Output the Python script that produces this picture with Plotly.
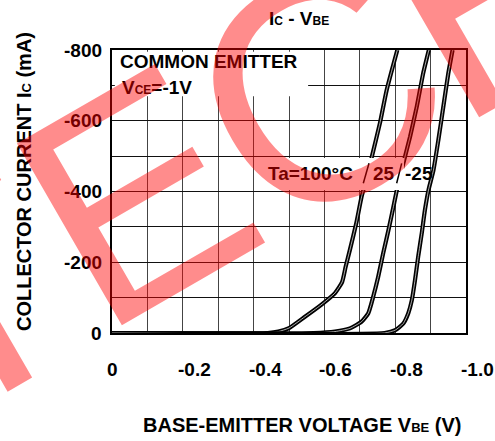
import plotly.graph_objects as go

# ---- data ----
vbe_100 = [0, -0.44, -0.47, -0.50, -0.545, -0.59, -0.63, -0.65, -0.66, -0.672, -0.69, -0.705, -0.718, -0.734, -0.757, -0.776, -0.806]
ic_100 = [0, 0, -4, -14, -46, -79, -113, -144, -187, -235, -310, -385, -433, -498, -594, -687, -800]
vbe_25 = [0, -0.57, -0.63, -0.672, -0.705, -0.724, -0.738, -0.752, -0.766, -0.781, -0.795, -0.809, -0.823, -0.842, -0.861, -0.879, -0.895]
ic_25 = [0, 0, -4, -13, -32, -56, -103, -159, -225, -291, -357, -425, -480, -555, -640, -734, -800]
vbe_m25 = [0, -0.77, -0.80, -0.823, -0.837, -0.847, -0.856, -0.865, -0.875, -0.884, -0.894, -0.908, -0.922, -0.936, -0.950, -0.962]
ic_m25 = [0, 0, -8, -27, -56, -93, -150, -216, -282, -348, -404, -460, -546, -640, -734, -800]

x_tick_vals = [0, -0.2, -0.4, -0.6, -0.8, -1.0]
x_tick_text = ["0", "-0.2", "-0.4", "-0.6", "-0.8", "-1.0"]
y_tick_vals = [0, -200, -400, -600, -800]
y_tick_text = ["0", "-200", "-400", "-600", "-800"]

# watermark letters (partly outside the picture) and their centres in paper units
wm_letters = ["T", "E", "C", "H"]
wm_x = [-0.4105, 0.0667, 0.5819, 1.0958]
wm_y = [0.1403, 0.4848, 0.8560, 1.2350]
wm_size = [305, 305, 318, 305]

FONT = "Liberation Sans, Arial, Helvetica, sans-serif"

fig = go.Figure()
for xs, ys in [(vbe_100, ic_100), (vbe_25, ic_25), (vbe_m25, ic_m25)]:
    fig.add_trace(go.Scatter(x=xs, y=ys, mode="lines",
                             line=dict(color="black", width=4.2, shape="spline", smoothing=0.5),
                             hoverinfo="skip", showlegend=False))
    fig.add_trace(go.Scatter(x=xs, y=ys, mode="lines",
                             line=dict(color="rgba(255,255,255,0.75)", width=0.9, shape="spline", smoothing=0.5),
                             hoverinfo="skip", showlegend=False))

annotations = []
# tick labels
for v, t in zip(x_tick_vals, x_tick_text):
    annotations.append(dict(x=v, xref="x", y=-0.1307, yref="paper", text=t, showarrow=False,
                            xanchor="left", yanchor="middle", xshift=-6, borderpad=0))
for v, t in zip(y_tick_vals, y_tick_text):
    annotations.append(dict(x=0, xref="paper", y=v, yref="y", text=t, showarrow=False,
                            xanchor="right", yanchor="middle", xshift=-9, borderpad=0))

# titles and labels
annotations += [
    dict(x=0.527, y=1.113, xref="paper", yref="paper", showarrow=False, xanchor="center", yanchor="middle",
         text="I<span style='font-size:12px'>C</span> - V<span style='font-size:12px'>BE</span>"),
    dict(x=0.538, y=-0.325, xref="paper", yref="paper", showarrow=False, xanchor="center", yanchor="middle",
         font=dict(size=20),
         text="BASE-EMITTER VOLTAGE V<span style='font-size:13px'>BE</span> (V)"),
    dict(x=-0.2486, y=0.537, xref="paper", yref="paper", showarrow=False, xanchor="center", yanchor="middle",
         textangle=-90, font=dict(size=20),
         text="COLLECTOR CURRENT I<span style='font-size:13px'>C</span> (mA)"),
    dict(x=0.0198, y=0.9576, xref="paper", yref="paper", showarrow=False, xanchor="left", yanchor="middle",
         borderpad=0, text="COMMON EMITTER"),
    dict(x=0.0254, y=0.869, xref="paper", yref="paper", showarrow=False, xanchor="left", yanchor="middle",
         borderpad=0, text="V<span style='font-size:12px'>CE</span>=-1V"),
    dict(x=0.437, y=0.5643, xref="paper", yref="paper", showarrow=False, xanchor="left", yanchor="middle",
         borderpad=0, text="Ta=100°C"),
    dict(x=0.7336, y=0.5643, xref="paper", yref="paper", showarrow=False, xanchor="left", yanchor="middle",
         borderpad=0, text="25"),
    dict(x=0.8249, y=0.5643, xref="paper", yref="paper", showarrow=False, xanchor="left", yanchor="middle",
         borderpad=0, text="-25"),
]
# watermark
for ch, wx, wy, ws in zip(wm_letters, wm_x, wm_y, wm_size):
    annotations.append(dict(x=wx, y=wy, xref="paper", yref="paper", showarrow=False,
                            xanchor="center", yanchor="middle", textangle=-30, text=ch, borderpad=0,
                            font=dict(family=FONT, size=ws, color="rgba(255,0,0,0.45)", weight="normal")))

shapes = [
    dict(type="rect", xref="paper", yref="paper", x0=0.008, x1=0.554, y0=0.837, y1=0.994,
         fillcolor="white", line=dict(width=0), layer="above"),
    dict(type="rect", xref="paper", yref="paper", x0=0.4237, x1=0.8249, y0=0.5053, y1=0.6184,
         fillcolor="white", line=dict(width=0), layer="above"),
    dict(type="line", xref="paper", yref="paper", x0=0.7099, x1=0.726, y0=0.529, y1=0.5996,
         line=dict(color="black", width=1.5), layer="above"),
    dict(type="line", xref="paper", yref="paper", x0=0.8042, x1=0.8183, y0=0.529, y1=0.5996,
         line=dict(color="black", width=1.5), layer="above"),
]

fig.update_layout(
    width=495, height=441,
    margin=dict(l=112, r=29, t=50, b=108),
    paper_bgcolor="white", plot_bgcolor="white",
    font=dict(family=FONT, size=19, color="black", weight="bold"),
    showlegend=False,
    annotations=annotations,
    shapes=shapes,
    xaxis=dict(range=[0, -1.0], tick0=0, dtick=0.1, showgrid=True, gridcolor="#444", gridwidth=1,
               showticklabels=False, ticks="", zeroline=False,
               showline=True, linecolor="black", linewidth=1.5, mirror=True),
    yaxis=dict(range=[0, -800], tick0=0, dtick=100, showgrid=True, gridcolor="#111", gridwidth=1,
               showticklabels=False, ticks="", zeroline=False,
               showline=True, linecolor="black", linewidth=1.5, mirror=True),
)

fig.write_html("out.html", config={"displayModeBar": False},
               post_script="document.body.style.margin='0';document.body.style.overflow='hidden';")
